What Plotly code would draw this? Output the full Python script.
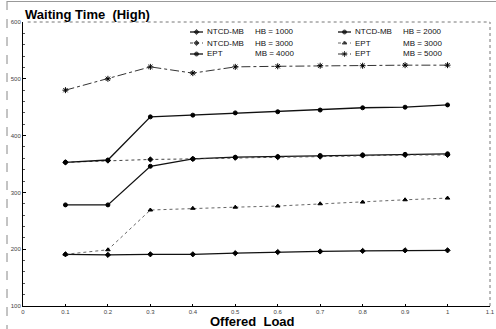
import plotly.graph_objects as go

# ---------------- data ----------------
offered_load = [0.1, 0.2, 0.3, 0.4, 0.5, 0.6, 0.7, 0.8, 0.9, 1.0]

ntcd_hb1000 = [191, 190, 191, 191, 193, 195, 196, 197, 198, 198]
ntcd_hb2000 = [278, 278, 346, 359, 362, 363, 365, 366, 367, 368]
ntcd_hb3000 = [353, 356, 358, 359, 361, 362, 363, 365, 366, 366]
ept_mb3000 = [191, 199, 269, 272, 274, 276, 280, 283, 287, 290]
ept_mb4000 = [353, 357, 433, 436, 440, 442, 445, 449, 450, 454]
ept_mb5000 = [480, 500, 521, 510, 521, 522, 523, 523, 524, 524]

series_names = ["NTCD-MB", "NTCD-MB", "NTCD-MB", "EPT", "EPT", "EPT"]
series_params = ["HB = 1000", "HB = 2000", "HB = 3000", "MB = 3000", "MB = 4000", "MB = 5000"]
series_values = [ntcd_hb1000, ntcd_hb2000, ntcd_hb3000, ept_mb3000, ept_mb4000, ept_mb5000]

x_ticks = [0, 0.1, 0.2, 0.3, 0.4, 0.5, 0.6, 0.7, 0.8, 0.9, 1.0, 1.1]
x_tick_labels = ["0", "0.1", "0.2", "0.3", "0.4", "0.5", "0.6", "0.7", "0.8", "0.9", "1", "1.1"]
y_ticks = [100, 200, 300, 400, 500, 600]
y_tick_labels = ["100", "200", "300", "400", "500", "600"]

# ---------------- styles ----------------
styles = [
    dict(color="#111", dash="solid", width=1.3, symbol="diamond", msize=4),
    dict(color="#111", dash="solid", width=1.3, symbol="circle", msize=4),
    dict(color="#444", dash="dot", width=1.0, symbol="diamond", msize=4),
    dict(color="#666", dash="dot", width=1.0, symbol="triangle-up", msize=4),
    dict(color="#111", dash="solid", width=1.3, symbol="circle", msize=4),
    dict(color="#333", dash="dashdot", width=1.0, symbol="asterisk-open", msize=5),
]

fig = go.Figure()
for name, param, vals, st in zip(series_names, series_params, series_values, styles):
    fig.add_trace(go.Scatter(
        x=offered_load, y=vals, mode="lines+markers",
        name=f"{name} {param}",
        line=dict(color=st["color"], dash=st["dash"], width=st["width"]),
        marker=dict(color="#000", symbol=st["symbol"], size=st["msize"],
                    line=dict(color="#000", width=1)),
        showlegend=False,
    ))

# ---------------- manual compact legend (overlay axes 0..1 over plot area) ----------------
W, H = 496, 329
L, R, T, B = 23, 6, 22, 23
pw, ph = W - L - R, H - T - B

def px_x(px):
    return (px - L) / pw

def px_y(py):
    return (H - B - py) / ph

legend_order = [0, 2, 4, 1, 3, 5]  # column 1 then column 2
col_x = [190, 338]
row_y = [32, 43, 54]
for k, idx in enumerate(legend_order):
    c, r = divmod(k, 3)
    st = styles[idx]
    x0 = px_x(col_x[c]); x1 = px_x(col_x[c] + 13); xm = (x0 + x1) / 2
    yy = px_y(row_y[r])
    fig.add_trace(go.Scatter(
        x=[x0, xm, x1], y=[yy, yy, yy], mode="lines+markers",
        xaxis="x2", yaxis="y2", showlegend=False, hoverinfo="skip",
        line=dict(color=st["color"], dash=st["dash"], width=st["width"]),
        marker=dict(color="#000", symbol=st["symbol"], size=[0, st["msize"], 0],
                    line=dict(color="#000", width=1)),
    ))
    fig.add_annotation(xref="paper", yref="paper", x=px_x(col_x[c] + 15), y=yy,
                       xanchor="left", yanchor="middle", showarrow=False,
                       text=series_names[idx],
                       font=dict(family="Liberation Sans", size=8, color="#111"))
    fig.add_annotation(xref="paper", yref="paper", x=px_x(col_x[c] + 63), y=yy,
                       xanchor="left", yanchor="middle", showarrow=False,
                       text=series_params[idx],
                       font=dict(family="Liberation Sans", size=8, color="#111"))

# ---------------- titles ----------------
fig.add_annotation(xref="paper", yref="paper", x=px_x(23), y=px_y(14),
                   xanchor="left", yanchor="middle", showarrow=False,
                   text="<b>Waiting Time  (High)</b>",
                   font=dict(family="Liberation Sans", size=13, color="#000"))
fig.add_annotation(xref="paper", yref="paper", x=px_x(252), y=px_y(321),
                   xanchor="center", yanchor="middle", showarrow=False,
                   text="<b>Offered  Load</b>",
                   font=dict(family="Liberation Sans", size=13, color="#000"))

# ---------------- frame decorations ----------------
fig.add_shape(type="line", xref="paper", yref="paper", x0=0.01, x1=1, y0=1, y1=1,
              line=dict(color="#777", width=1, dash="dot"))
fig.add_shape(type="line", xref="paper", yref="paper", x0=1, x1=1, y0=0, y1=1,
              line=dict(color="#777", width=1, dash="dot"))
fig.add_shape(type="line", xref="paper", yref="paper", x0=px_x(7), x1=px_x(7),
              y0=px_y(1), y1=px_y(329), line=dict(color="#888", width=1, dash="dash"))
fig.add_shape(type="line", xref="paper", yref="paper", x0=px_x(7), x1=px_x(496),
              y0=px_y(1.5), y1=px_y(1.5), line=dict(color="#999", width=1))

tickfont = dict(family="Liberation Sans", size=6, color="#444")
fig.update_layout(
    width=W, height=H,
    margin=dict(l=L, r=R, t=T, b=B),
    paper_bgcolor="white", plot_bgcolor="white",
    xaxis=dict(range=[0, 1.1], tickvals=x_ticks, ticktext=x_tick_labels,
               showgrid=False, zeroline=False, showline=True, linecolor="#000",
               linewidth=1, ticks="inside", ticklen=2, tickcolor="#000",
               tickfont=tickfont, automargin=False),
    yaxis=dict(range=[100, 600], tickvals=y_ticks, ticktext=y_tick_labels,
               showgrid=False, zeroline=False, showline=True, linecolor="#000",
               linewidth=1, ticks="inside", ticklen=3, tickcolor="#000",
               tickfont=tickfont, automargin=False,
               minor=dict(ticks="inside", ticklen=2, tickcolor="#555", dtick=20)),
    xaxis2=dict(range=[0, 1], overlaying="x", visible=False, fixedrange=True),
    yaxis2=dict(range=[0, 1], overlaying="y", visible=False, fixedrange=True),
    font=dict(family="Liberation Sans"),
)

fig.write_html("out.html", config={"displayModeBar": False},
               post_script="document.body.style.margin='0';document.body.style.padding='0';")
